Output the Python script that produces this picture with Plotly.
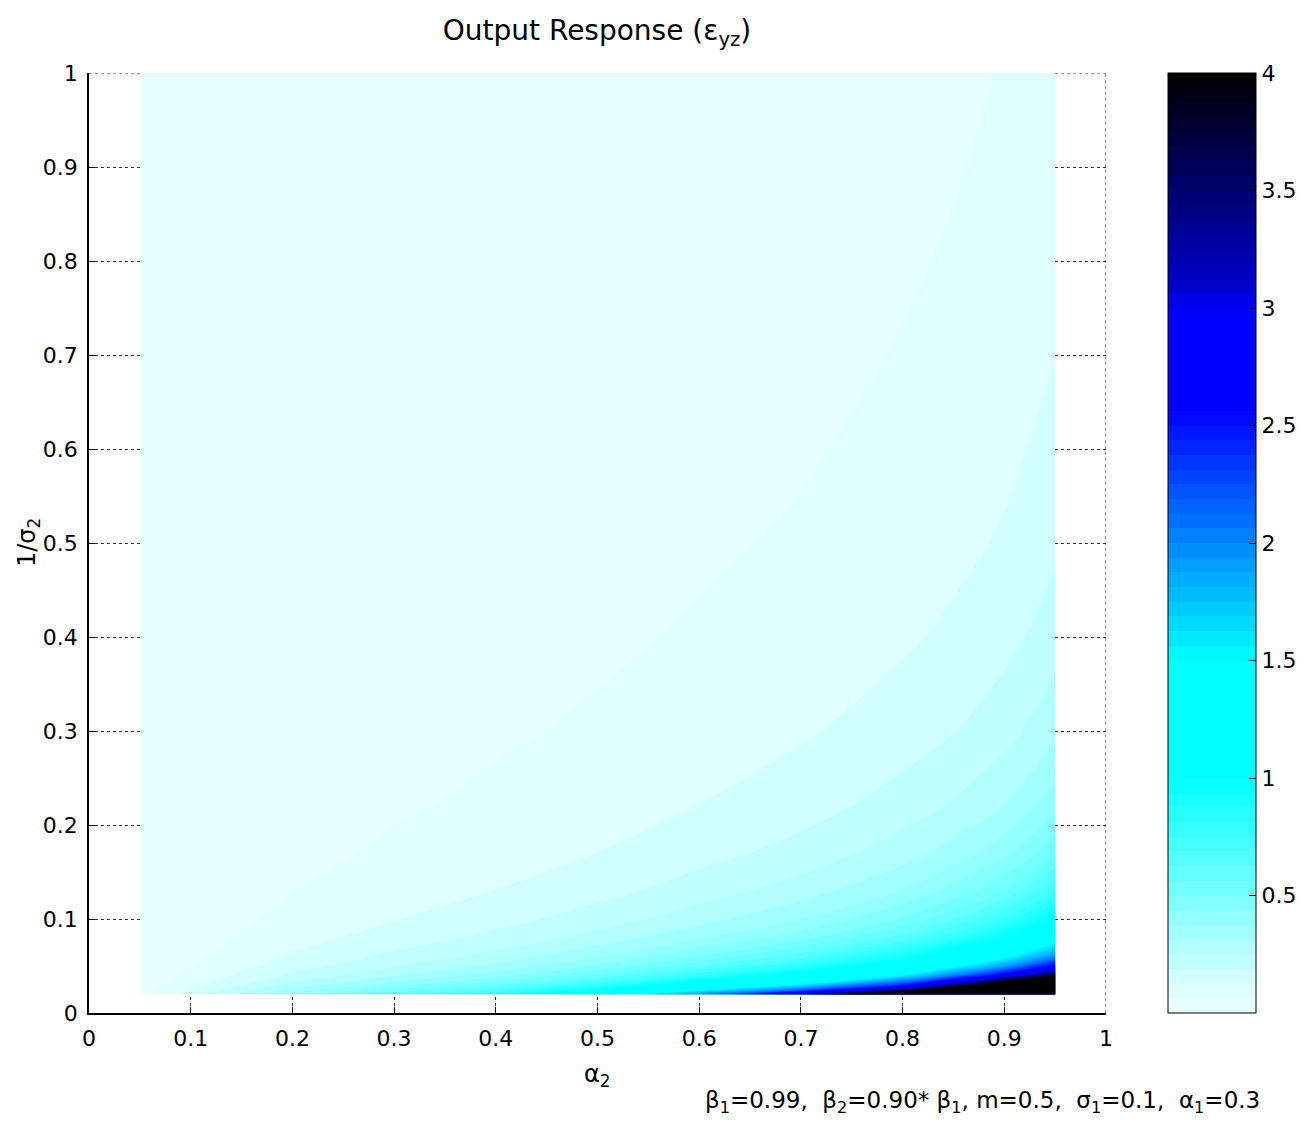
import numpy as np
import plotly.graph_objects as go

# ---------------- data ----------------
alpha2 = [0.05, 0.1, 0.2, 0.3, 0.4, 0.5, 0.6, 0.7, 0.8, 0.85, 0.9, 0.95]
inv_sigma2 = [0.02, 0.025, 0.03, 0.04, 0.05, 0.06, 0.08, 0.1, 0.13, 0.17,
              0.22, 0.3, 0.4, 0.5, 0.6, 0.7, 0.85, 1.0]

# epsilon_yz, one list per alpha2 column (values along inv_sigma2)
eps_a005 = [0.045, 0.036, 0.030, 0.0225, 0.018, 0.015, 0.011, 0.009, 0.007, 0.0053, 0.0041, 0.003, 0.0023, 0.0018, 0.0015, 0.0013, 0.0011, 0.0009]
eps_a010 = [0.150, 0.120, 0.100, 0.075, 0.060, 0.050, 0.0375, 0.030, 0.023, 0.0176, 0.0136, 0.010, 0.0075, 0.006, 0.005, 0.0043, 0.0035, 0.003]
eps_a020 = [0.40, 0.32, 0.267, 0.20, 0.16, 0.133, 0.10, 0.08, 0.0615, 0.047, 0.036, 0.0267, 0.02, 0.016, 0.0133, 0.0114, 0.0094, 0.008]
eps_a030 = [0.61, 0.488, 0.407, 0.305, 0.244, 0.203, 0.1525, 0.122, 0.094, 0.0718, 0.0555, 0.0407, 0.0305, 0.0244, 0.0203, 0.0174, 0.0144, 0.0122]
eps_a040 = [0.82, 0.656, 0.547, 0.41, 0.328, 0.273, 0.205, 0.164, 0.126, 0.0965, 0.0745, 0.0547, 0.041, 0.0328, 0.0273, 0.0234, 0.0193, 0.0164]
eps_a050 = [1.235, 0.955, 0.778, 0.568, 0.447, 0.368, 0.273, 0.2165, 0.165, 0.1257, 0.0968, 0.0707, 0.0529, 0.0423, 0.0352, 0.0301, 0.0248, 0.0211]
eps_a060 = [1.93, 1.42, 1.125, 0.794, 0.614, 0.5, 0.365, 0.287, 0.218, 0.165, 0.126, 0.0918, 0.0685, 0.0547, 0.0455, 0.0389, 0.032, 0.0272]
eps_a070 = [2.96, 2.06, 1.58, 1.08, 0.819, 0.66, 0.476, 0.372, 0.28, 0.2105, 0.161, 0.1166, 0.0868, 0.0692, 0.0575, 0.0492, 0.0404, 0.0343]
eps_a080 = [5.0, 3.21, 2.37, 1.55, 1.154, 0.918, 0.652, 0.506, 0.378, 0.283, 0.215, 0.1557, 0.1157, 0.092, 0.0764, 0.0653, 0.0536, 0.0455]
eps_a085 = [8.55, 4.73, 3.27, 2.02, 1.464, 1.147, 0.80, 0.615, 0.456, 0.339, 0.257, 0.185, 0.137, 0.109, 0.0904, 0.0772, 0.0634, 0.0537]
eps_a090 = [16.0, 7.1, 4.57, 2.67, 1.88, 1.455, 1.0, 0.762, 0.561, 0.416, 0.314, 0.225, 0.1667, 0.132, 0.1096, 0.0936, 0.0767, 0.065]
eps_a095 = [33.6, 11.2, 6.72, 3.73, 2.585, 1.976, 1.344, 1.018, 0.747, 0.551, 0.415, 0.297, 0.2196, 0.174, 0.144, 0.123, 0.101, 0.0855]

axis_ticks = [0, 0.1, 0.2, 0.3, 0.4, 0.5, 0.6, 0.7, 0.8, 0.9, 1]
cbar_ticks = [0.5, 1, 1.5, 2, 2.5, 3, 3.5, 4]

# table: rows = inv_sigma2, columns = alpha2
columns = [eps_a005, eps_a010, eps_a020, eps_a030, eps_a040, eps_a050,
           eps_a060, eps_a070, eps_a080, eps_a085, eps_a090, eps_a095]
z = np.array(columns).T

# ---------------- colour map (white-cyan-blue-black, 64 levels) ----------------
colorscale = [
    [0.0, "rgb(232,255,255)"],
    [1 / 64, "rgb(232,255,255)"],
    [16 / 64, "rgb(0,255,255)"],
    [24 / 64, "rgb(0,255,255)"],
    [25 / 64, "rgb(0,240,255)"],
    [40 / 64, "rgb(0,15,255)"],
    [41 / 64, "rgb(0,0,255)"],
    [48 / 64, "rgb(0,0,255)"],
    [49 / 64, "rgb(0,0,210)"],
    [1.0, "rgb(0,0,0)"],
]

FONT = "DejaVu Sans, Helvetica, Arial, sans-serif"
W, H = 1299, 1121          # page body adds an 8 px offset
L, R, T, B = 81, 201, 65, 116

fig = go.Figure()
fig.add_trace(go.Contour(
    x=alpha2, y=inv_sigma2, z=z,
    zmin=0, zmax=4,
    colorscale=colorscale,
    contours=dict(start=0, end=4, size=0.0625, coloring="fill", showlines=False),
    line=dict(width=0),
    colorbar=dict(
        x=(1168 - 89) / 1017, xanchor="left", xpad=0,
        y=0.5, yanchor="middle", ypad=0,
        len=1, lenmode="fraction",
        thickness=88, thicknessmode="pixels",
        outlinecolor="black", outlinewidth=1,
        tickvals=cbar_ticks, ticktext=[str(t) for t in cbar_ticks],
        ticks="inside", ticklen=7, tickcolor="black",
        tickfont=dict(family=FONT, size=22, color="black"),
    ),
    hoverinfo="x+y+z",
))

axis_common = dict(
    range=[0, 1], tickvals=axis_ticks, ticktext=[str(t) for t in axis_ticks],
    showgrid=True, gridcolor="#333333", gridwidth=1, griddash="dot",
    showline=True, linecolor="black", linewidth=1.5, mirror=False,
    ticks="inside", ticklen=6, tickcolor="black",
    tickfont=dict(family=FONT, size=22, color="black"),
    zeroline=False,
)

fig.update_layout(
    width=W, height=H,
    margin=dict(l=L, r=R, t=T, b=B, autoexpand=False),
    paper_bgcolor="white", plot_bgcolor="white",
    xaxis=dict(axis_common, ticklabelstandoff=5),
    yaxis=dict(axis_common, ticklabelstandoff=5),
    title=dict(
        text="Output Response (ε<sub>yz</sub>)",
        x=(597 - 8) / W, xanchor="center",
        y=1 - 22 / H, yanchor="middle", yref="container",
        font=dict(family=FONT, size=28, color="black"),
    ),
    showlegend=False,
    shapes=[
        dict(type="line", xref="x", yref="y", x0=1, x1=1, y0=0, y1=1, layer="below",
             line=dict(color="#333333", width=1, dash="dot")),
        dict(type="line", xref="x", yref="y", x0=0, x1=1, y0=1, y1=1, layer="below",
             line=dict(color="#333333", width=1, dash="dot")),
    ],
    annotations=[
        dict(text="α<sub>2</sub>", xref="paper", yref="paper",
             x=0.5, y=-0.066, xanchor="center", yanchor="middle",
             showarrow=False, font=dict(family=FONT, size=24, color="black")),
        dict(text="1/σ<sub>2</sub>", xref="paper", yref="paper",
             x=(28 - 89) / 1017, y=0.5, xanchor="center", yanchor="middle",
             textangle=-90, showarrow=False,
             font=dict(family=FONT, size=24, color="black")),
        dict(text="β<sub>1</sub>=0.99,  β<sub>2</sub>=0.90* β<sub>1</sub>, m=0.5,  σ<sub>1</sub>=0.1,  α<sub>1</sub>=0.3",
             xref="paper", yref="paper",
             x=(1262 - 89) / 1017, y=-(1102 - 1013) / 940,
             xanchor="right", yanchor="middle",
             showarrow=False, font=dict(family=FONT, size=23, color="black")),
    ],
)

fig.write_html("out.html")
